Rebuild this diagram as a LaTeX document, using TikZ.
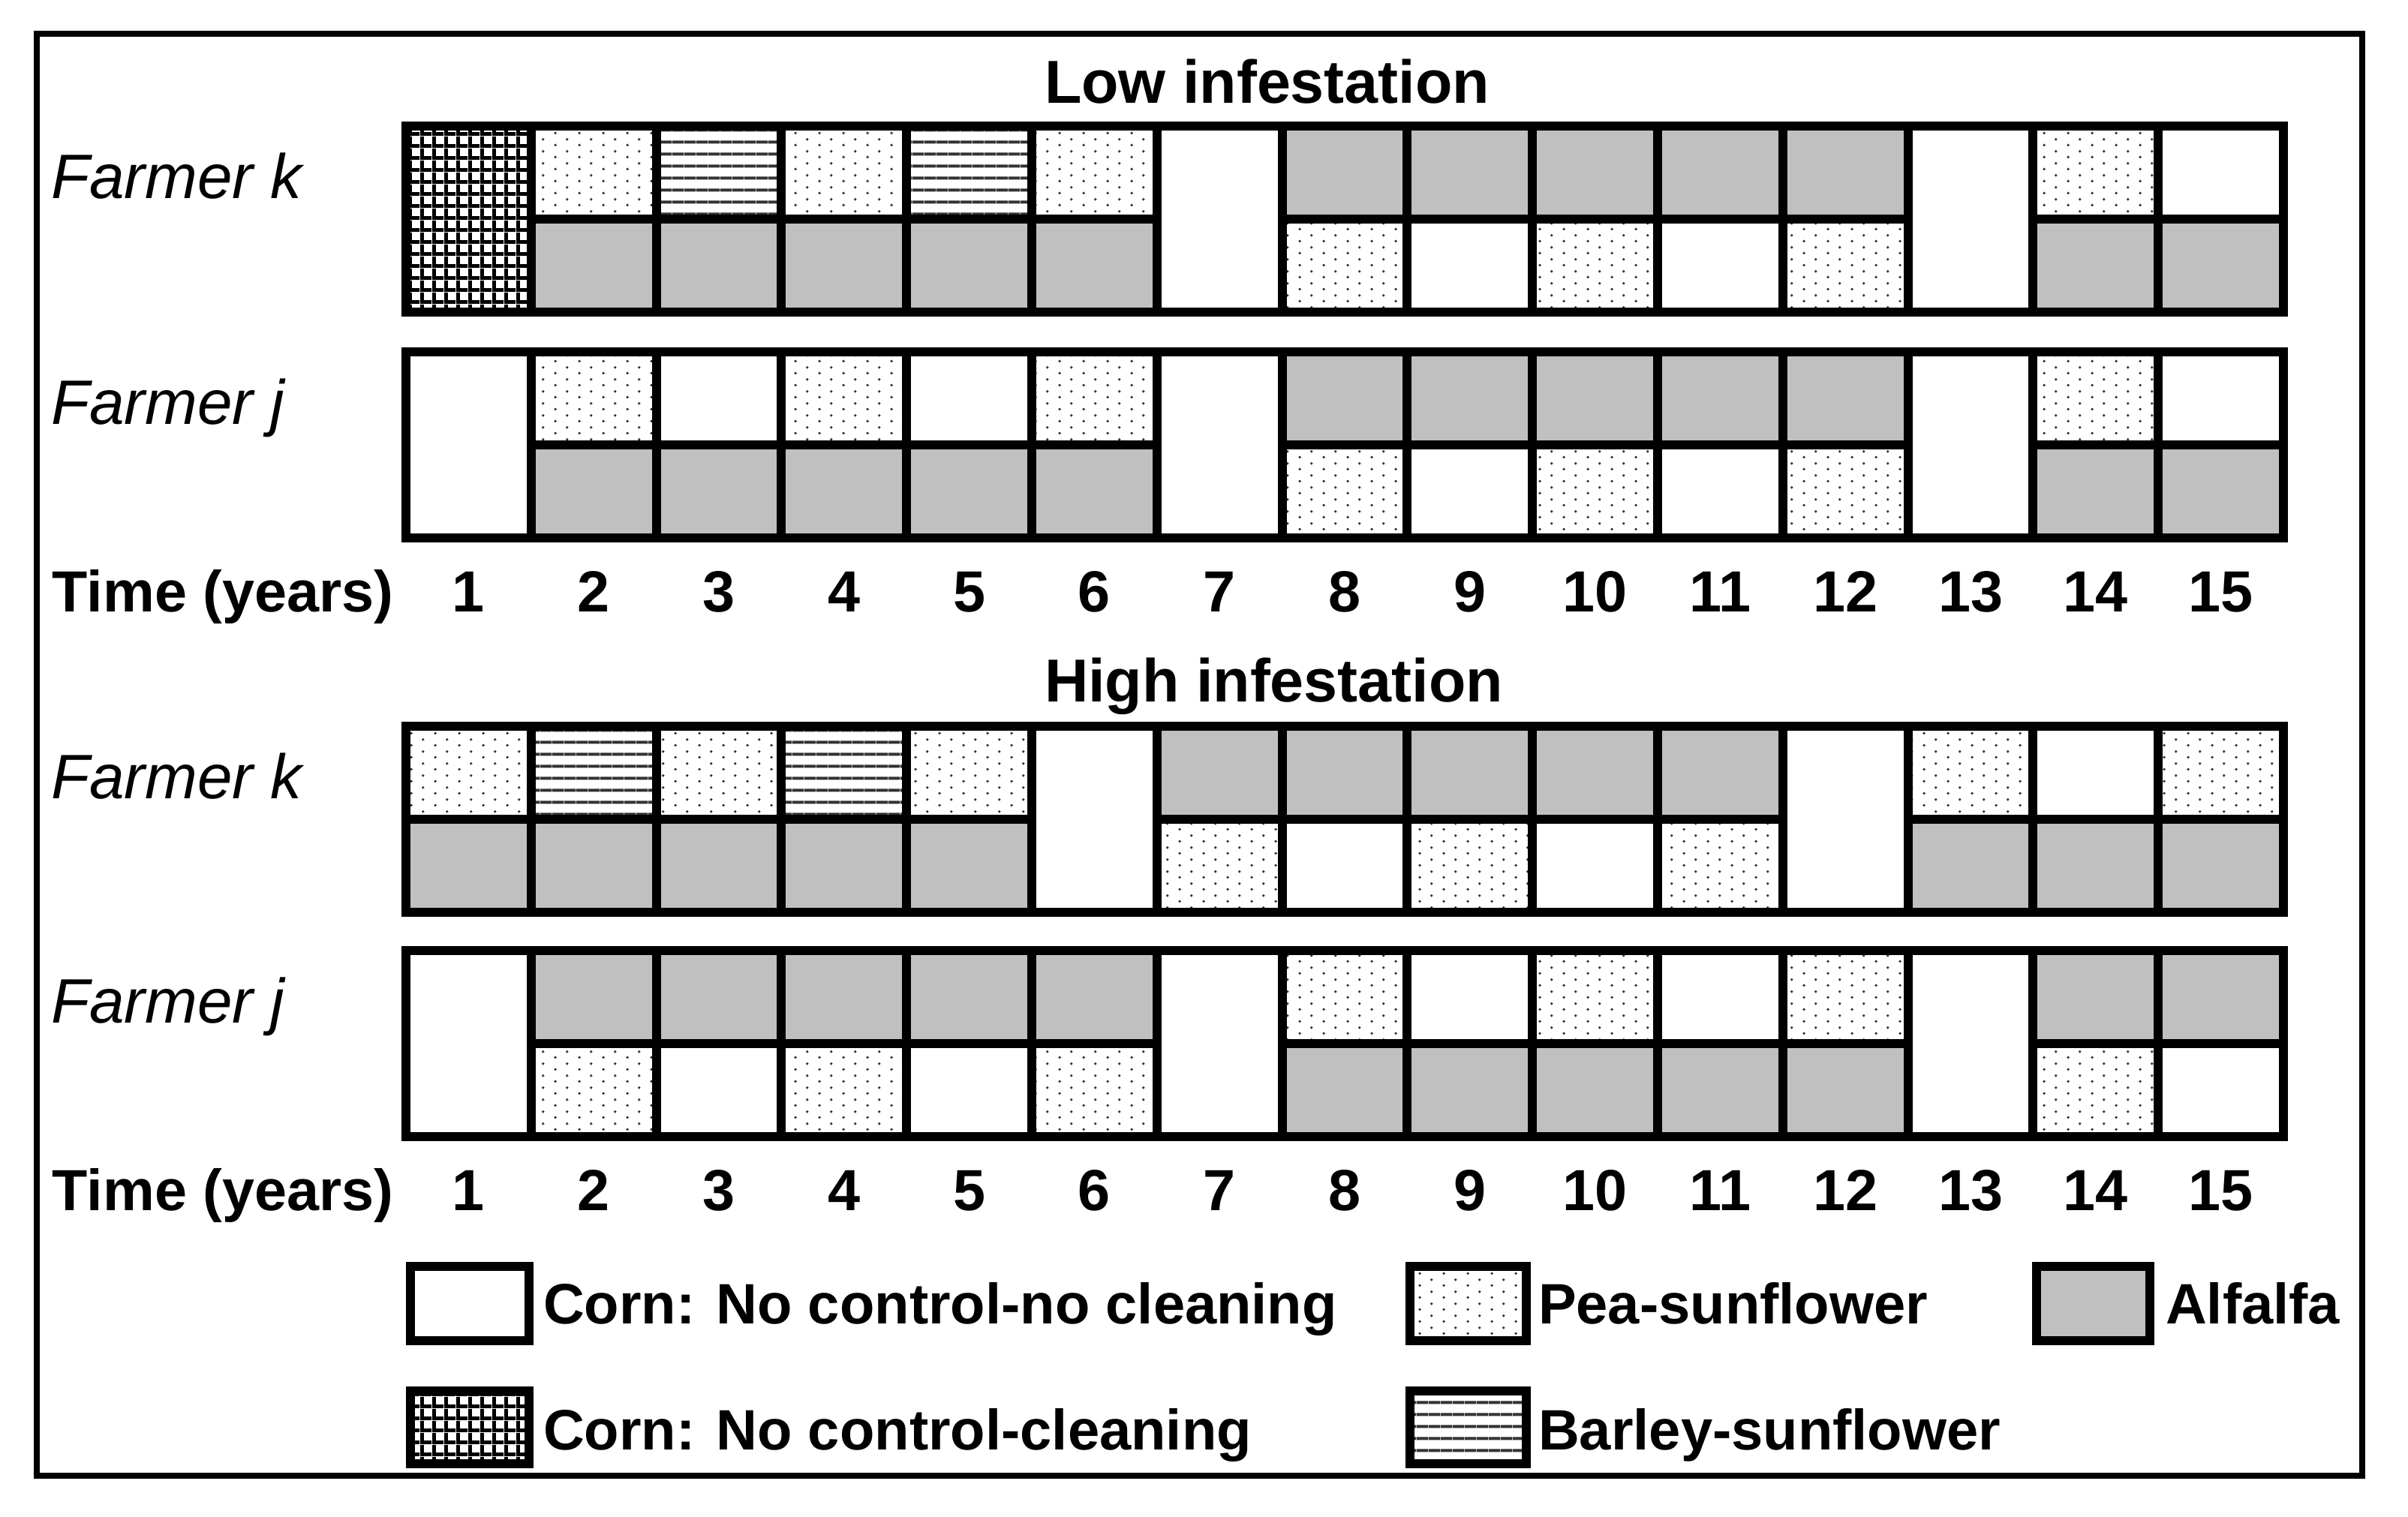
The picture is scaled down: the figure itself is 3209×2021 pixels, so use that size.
\documentclass[tikz,border=0pt]{standalone}
\usepackage{fontspec}
\setmainfont{Liberation Sans}
\usetikzlibrary{patterns}
\definecolor{alfgray}{HTML}{C0C0C0}
\definecolor{patgray}{HTML}{333333}
\pgfdeclarepatternformonly{peadots}{\pgfpointorigin}{\pgfpoint{9.1pt}{4.55pt}}{\pgfpoint{9.1pt}{4.55pt}}{%
  \pgfpathcircle{\pgfpoint{1.2pt}{1.1pt}}{0.55pt}%
  \pgfpathcircle{\pgfpoint{5.75pt}{3.375pt}}{0.55pt}%
  \pgfusepath{fill}}
\pgfdeclarepatternformonly{barleylines}{\pgfpointorigin}{\pgfpoint{4.55pt}{4.55pt}}{\pgfpoint{4.55pt}{4.55pt}}{%
  \pgfpathrectangle{\pgfpoint{-0.1pt}{1.7pt}}{\pgfpoint{4.75pt}{1.2pt}}%
  \pgfusepath{fill}}
\pgfdeclarepatternformonly{corngrid}{\pgfpointorigin}{\pgfpoint{4.55pt}{4.55pt}}{\pgfpoint{4.55pt}{4.55pt}}{%
  \pgfpathrectangle{\pgfpoint{0pt}{0pt}}{\pgfpoint{4.55pt}{1.45pt}}%
  \pgfpathrectangle{\pgfpoint{0pt}{0pt}}{\pgfpoint{1.45pt}{4.55pt}}%
  \pgfusepath{fill}}
\newcommand\cropcol[4]{%
  \edef\ccb{#4}\def\ccF{F}%
  \ifx\ccb\ccF
    \draw[cellbox,#3] ({541+(#1-1)*166.8},#2) rectangle ({541+#1*166.8},{#2+248});
  \else
    \draw[cellbox,#3] ({541+(#1-1)*166.8},#2) rectangle ({541+#1*166.8},{#2+124});
    \draw[cellbox,#4] ({541+(#1-1)*166.8},{#2+124}) rectangle ({541+#1*166.8},{#2+248});
  \fi}
\newcommand\croprow[2]{%
  \foreach \t/\b [count=\i] in {#2}{%
    \edef\cctmp{\noexpand\cropcol{\i}{#1}{\t}{\b}}\cctmp}%
  \draw[cellbox] (541,#1) rectangle ({541+15*166.8},{#1+248});}
\begin{document}
\begin{tikzpicture}[x=0.01cm,y=-0.01cm,
  cellbox/.style={draw=black,line width=3.4pt,line join=miter},
  cW/.style={fill=white},
  cG/.style={fill=alfgray},
  cD/.style={pattern=peadots,pattern color=patgray},
  cH/.style={pattern=barleylines,pattern color=patgray},
  cC/.style={pattern=corngrid,pattern color=black},
  txt/.style={inner sep=0pt,outer sep=0pt,font=\fontsize{22}{26}\selectfont},
  farmer/.style={txt,font=\fontsize{23.8}{28}\selectfont\itshape,anchor=base west},
  bold/.style={txt,font=\fontsize{22}{26}\selectfont\bfseries},
  title/.style={txt,font=\fontsize{23}{27}\selectfont\bfseries,anchor=base west},
  legtxt/.style={txt,font=\fontsize{21.6}{26}\selectfont\bfseries,anchor=base west}]
\useasboundingbox (0,0) rectangle (3209,2021);
\fill[white] (0,0) rectangle (3209,2021);
\draw[line width=2.3pt] (49,45) rectangle (3148,1967);

% titles
\node[title] (tlow) at (1392,137) {Low infestation};
\node[title] (thigh) at (1392,935) {High infestation};

% farmer labels
\node[farmer] (lk) at (68,264) {Farmer k};
\node[farmer] (lj) at (68,565) {Farmer j};
\node[farmer] (hk) at (68,1064) {Farmer k};
\node[farmer] (hj) at (68,1363) {Farmer j};

% low infestation, farmer k
\croprow{168}{cC/F,cD/cG,cH/cG,cD/cG,cH/cG,cD/cG,cW/F,cG/cD,cG/cW,cG/cD,cG/cW,cG/cD,cW/F,cD/cG,cW/cG}
% low infestation, farmer j
\croprow{469}{cW/F,cD/cG,cW/cG,cD/cG,cW/cG,cD/cG,cW/F,cG/cD,cG/cW,cG/cD,cG/cW,cG/cD,cW/F,cD/cG,cW/cG}
% high infestation, farmer k
\croprow{968}{cD/cG,cH/cG,cD/cG,cH/cG,cD/cG,cW/F,cG/cD,cG/cW,cG/cD,cG/cW,cG/cD,cW/F,cD/cG,cW/cG,cD/cG}
% high infestation, farmer j
\croprow{1267}{cW/F,cG/cD,cG/cW,cG/cD,cG/cW,cG/cD,cW/F,cD/cG,cW/cG,cD/cG,cW/cG,cD/cG,cW/F,cG/cD,cG/cW}

% time axes
\node[bold,anchor=base west] (time1) at (70,815) {Time (years)};
\node[bold,anchor=base west] (time2) at (70,1613) {Time (years)};
\foreach \n in {1,...,15}{
  \node[bold,anchor=base] (ya\n) at ({541+(\n-0.5)*166.8},815) {\n};
  \node[bold,anchor=base] (yb\n) at ({541+(\n-0.5)*166.8},1613) {\n};
}

% legend
\draw[cellbox,cW] (547,1688) rectangle (705,1787);
\node[legtxt] (l1) at (724,1764) {Corn: No control-no cleaning};
\draw[cellbox,cC] (547,1854) rectangle (705,1951);
\node[legtxt] (l2) at (724,1932) {Corn: No control-cleaning};
\draw[cellbox,cD] (1879,1688) rectangle (2034,1787);
\node[legtxt] (l3) at (2050,1764) {Pea-sunflower};
\draw[cellbox,cH] (1879,1854) rectangle (2034,1951);
\node[legtxt] (l4) at (2050,1932) {Barley-sunflower};
\draw[cellbox,cG] (2714,1688) rectangle (2865,1787);
\node[legtxt] (l5) at (2886,1764) {Alfalfa};
\end{tikzpicture}
\end{document}
